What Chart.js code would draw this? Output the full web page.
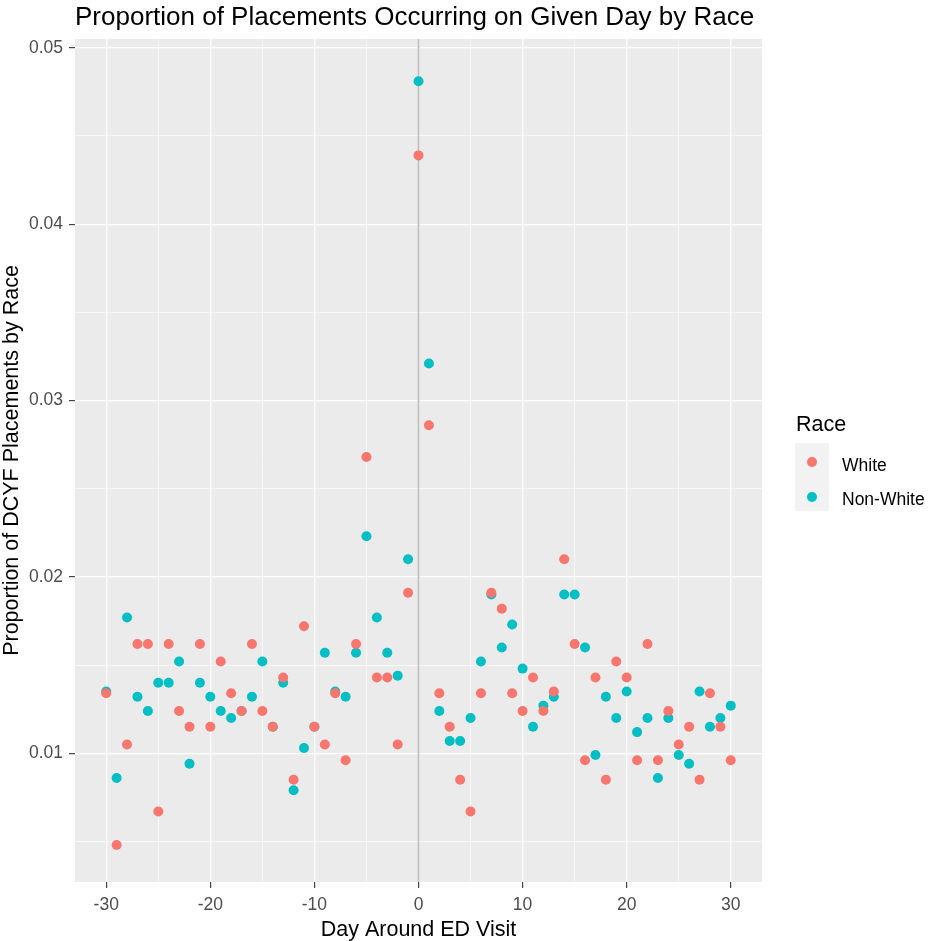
<!DOCTYPE html>
<html>
<head>
<meta charset="utf-8">
<script src="https://cdn.jsdelivr.net/npm/chart.js@4.4.1/dist/chart.umd.min.js"></script>
<style>
  html, body { margin: 0; padding: 0; background: #ffffff; }
  #wrap { position: relative; width: 930px; height: 941px; font-family: "Liberation Sans", Arial, sans-serif; }
  #c { position: absolute; left: 0; top: 0; }
  .txt { position: absolute; white-space: nowrap; line-height: 1; color: #000000; }
  .key { position: absolute; width: 10px; height: 10px; border-radius: 50%; }
</style>
</head>
<body>
<div id="wrap">
  <canvas id="c" width="930" height="941"></canvas>
  <div class="txt" style="left:75px; top:3px; font-size:26px;">Proportion of Placements Occurring on Given Day by Race</div>
  <div class="txt" style="left:796px; top:414px; font-size:21.5px;">Race</div>
  <div style="position:absolute; left:795px; top:443px; width:34px; height:68px; background:#F2F2F2;"></div>
  <div class="key" style="left:807px; top:457px; background:#F8766D;"></div>
  <div class="key" style="left:807px; top:492px; background:#00BFC4;"></div>
  <div class="txt" style="left:842px; top:457px; font-size:17.5px;">White</div>
  <div class="txt" style="left:842px; top:491px; font-size:17.5px;">Non-White</div>
</div>
<script>
// Day relative to the ED visit
const days = [
  -30, -29, -28, -27, -26, -25, -24, -23, -22, -21,
  -20, -19, -18, -17, -16, -15, -14, -13, -12, -11,
  -10,  -9,  -8,  -7,  -6,  -5,  -4,  -3,  -2,  -1,
    0,   1,   2,   3,   4,   5,   6,   7,   8,   9,
   10,  11,  12,  13,  14,  15,  16,  17,  18,  19,
   20,  21,  22,  23,  24,  25,  26,  27,  28,  29,
   30
];

// Share of each group's DCYF placements falling on that day
const whiteShare = [
  0.0134, 0.0048, 0.0105, 0.0162, 0.0162, 0.0067, 0.0162, 0.0124, 0.0115, 0.0162,
  0.0115, 0.0152, 0.0134, 0.0124, 0.0162, 0.0124, 0.0115, 0.0143, 0.0085, 0.0172,
  0.0115, 0.0105, 0.0134, 0.0096, 0.0162, 0.0268, 0.0143, 0.0143, 0.0105, 0.0191,
  0.0439, 0.0286, 0.0134, 0.0115, 0.0085, 0.0067, 0.0134, 0.0191, 0.0182, 0.0134,
  0.0124, 0.0143, 0.0124, 0.0135, 0.0210, 0.0162, 0.0096, 0.0143, 0.0085, 0.0152,
  0.0143, 0.0096, 0.0162, 0.0096, 0.0124, 0.0105, 0.0115, 0.0085, 0.0134, 0.0115,
  0.0096
];

const nonWhiteShare = [
  0.0135, 0.0086, 0.0177, 0.0132, 0.0124, 0.0140, 0.0140, 0.0152, 0.0094, 0.0140,
  0.0132, 0.0124, 0.0120, 0.0124, 0.0132, 0.0152, 0.0115, 0.0140, 0.0079, 0.0103,
  0.0115, 0.0157, 0.0135, 0.0132, 0.0157, 0.0223, 0.0177, 0.0157, 0.0144, 0.0210,
  0.0481, 0.0321, 0.0124, 0.0107, 0.0107, 0.0120, 0.0152, 0.0190, 0.0160, 0.0173,
  0.0148, 0.0115, 0.0127, 0.0132, 0.0190, 0.0190, 0.0160, 0.0099, 0.0132, 0.0120,
  0.0135, 0.0112, 0.0120, 0.0086, 0.0120, 0.0099, 0.0094, 0.0135, 0.0115, 0.0120,
  0.0127
];

// Grid positions (major ones carry labels)
const xTicks = [-30, -25, -20, -15, -10, -5, 0, 5, 10, 15, 20, 25, 30];
const xLabeled = [-30, -20, -10, 0, 10, 20, 30];
const yTicks = [0.005, 0.01, 0.015, 0.02, 0.025, 0.03, 0.035, 0.04, 0.045, 0.05];
const yLabeled = ['0.01', '0.02', '0.03', '0.04', '0.05'];

// Axis limits (data range plus a small margin)
const xLimits = { min: -33, max: 33 };
const yLimits = { min: 0.0027, max: 0.0505 };

const visitDay = 0;
const FONT = '"Liberation Sans", Arial, sans-serif';
const RED = '#F8766D';
const TEAL = '#00BFC4';

const isMajorX = v => xLabeled.includes(v);
const isMajorY = v => yLabeled.includes(v.toFixed(3).replace(/0$/, ''));

const panelBackground = {
  id: 'panelBackground',
  beforeDraw(chart) {
    const { ctx, chartArea: a } = chart;
    ctx.save();
    ctx.fillStyle = '#EBEBEB';
    ctx.fillRect(a.left, a.top, a.right - a.left, a.bottom - a.top);
    ctx.restore();
  }
};

const visitLine = {
  id: 'visitLine',
  beforeDatasetsDraw(chart) {
    const { ctx, chartArea: a, scales } = chart;
    const x = scales.x.getPixelForValue(visitDay);
    ctx.save();
    ctx.strokeStyle = '#BEBEBE';
    ctx.lineWidth = 1.6;
    ctx.beginPath();
    ctx.moveTo(x, a.top);
    ctx.lineTo(x, a.bottom);
    ctx.stroke();
    ctx.restore();
  }
};

const pointStyle = color => ({
  backgroundColor: color,
  borderColor: color,
  borderWidth: 0,
  pointRadius: 5,
  pointHoverRadius: 5
});

new Chart(document.getElementById('c'), {
  type: 'scatter',
  data: {
    datasets: [
      Object.assign({ label: 'White', data: days.map((d, i) => ({ x: d, y: whiteShare[i] })) }, pointStyle(RED)),
      Object.assign({ label: 'Non-White', data: days.map((d, i) => ({ x: d, y: nonWhiteShare[i] })) }, pointStyle(TEAL))
    ]
  },
  options: {
    responsive: false,
    animation: false,
    events: [],
    layout: { padding: { left: 0, top: 39, right: 168, bottom: 0 } },
    plugins: {
      legend: { display: false },
      title: { display: false },
      tooltip: { enabled: false }
    },
    scales: {
      x: {
        type: 'linear',
        min: xLimits.min,
        max: xLimits.max,
        afterBuildTicks: s => { s.ticks = xTicks.map(v => ({ value: v })); },
        afterFit: s => { s.height = 59; },
        border: { display: false },
        grid: {
          color: '#FFFFFF',
          lineWidth: c => (c.tick && isMajorX(c.tick.value)) ? 1.3 : 0.6,
          tickLength: 6,
          tickWidth: 1.1,
          tickColor: c => (c.tick && isMajorX(c.tick.value)) ? '#333333' : 'rgba(0,0,0,0)'
        },
        ticks: {
          autoSkip: false,
          maxRotation: 0,
          padding: 7,
          color: '#4D4D4D',
          font: { family: FONT, size: 17.5 },
          callback: v => isMajorX(v) ? String(v) : ''
        },
        title: {
          display: true,
          text: 'Day Around ED Visit',
          color: '#000000',
          font: { family: FONT, size: 21.5, lineHeight: 1 },
          padding: { top: 0, bottom: 0 }
        }
      },
      y: {
        type: 'linear',
        min: yLimits.min,
        max: yLimits.max,
        afterBuildTicks: s => { s.ticks = yTicks.map(v => ({ value: v })); },
        afterFit: s => { s.width = 75; },
        border: { display: false },
        grid: {
          color: '#FFFFFF',
          lineWidth: c => (c.tick && isMajorY(c.tick.value)) ? 1.3 : 0.6,
          tickLength: 6,
          tickWidth: 1.1,
          tickColor: c => (c.tick && isMajorY(c.tick.value)) ? '#333333' : 'rgba(0,0,0,0)'
        },
        ticks: {
          autoSkip: false,
          padding: 6,
          color: '#4D4D4D',
          font: { family: FONT, size: 17.5 },
          callback: v => isMajorY(v) ? v.toFixed(2) : ''
        },
        title: {
          display: true,
          text: 'Proportion of DCYF Placements by Race',
          color: '#000000',
          font: { family: FONT, size: 21.5, lineHeight: 1.15 },
          padding: { top: 0, bottom: 0 }
        }
      }
    }
  },
  plugins: [panelBackground, visitLine]
});
</script>
</body>
</html>
